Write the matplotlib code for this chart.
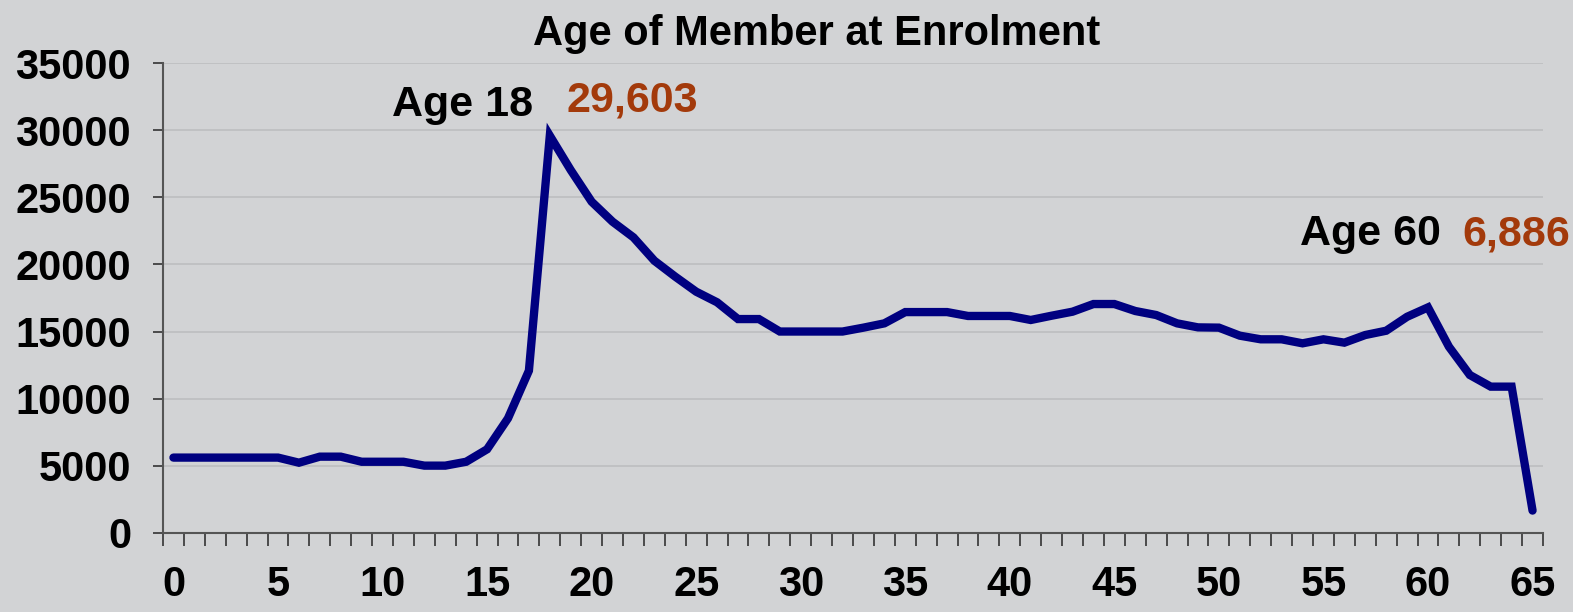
import matplotlib
matplotlib.use("Agg")
import matplotlib.pyplot as plt
from matplotlib.ticker import FixedLocator

plt.rcParams['font.family'] = ['Liberation Sans', 'DejaVu Sans']
plt.rcParams['font.weight'] = 'bold'

ages = list(range(0, 66))
members = [5600, 5600, 5600, 5600, 5600, 5600, 5220, 5670, 5670, 5290,
           5290, 5290, 5000, 5000, 5290, 6220, 8530, 12080, 29603, 27040,
           24680, 23190, 22020, 20280, 19090, 17970, 17180, 15930, 15930, 15000,
           15000, 15000, 15000, 15290, 15610, 16450, 16450, 16450, 16160, 16160,
           16160, 15860, 16180, 16480, 17050, 17050, 16530, 16230, 15610, 15310,
           15290, 14690, 14420, 14420, 14120, 14420, 14170, 14740, 15060, 16100,
           16800, 13870, 11760, 10890, 10890, 1650]
xtick_labels = [0, 5, 10, 15, 20, 25, 30, 35, 40, 45, 50, 55, 60, 65]
yticks = [0, 5000, 10000, 15000, 20000, 25000, 30000, 35000]
title = "Age of Member at Enrolment"

bg = '#D2D3D5'
fig = plt.figure(figsize=(15.73, 6.12), dpi=100, facecolor=bg)
ax = fig.add_axes([163/1573, 1 - 532.7/612, (1543-163)/1573, (532.7-63.3)/612])
ax.set_facecolor(bg)

ax.plot(ages, members, color='#000080', lw=6.0, solid_capstyle='round',
        solid_joinstyle='miter', zorder=3)

ax.set_xlim(-0.5, 65.5)
ax.set_ylim(0, 35000)
ax.set_yticks(yticks)
ax.set_yticklabels([str(v) for v in yticks], fontsize=30, fontweight='bold')
ax.set_xticks(xtick_labels)
ax.set_xticklabels([str(v) for v in xtick_labels], fontsize=30, fontweight='bold')
ax.tick_params(axis='x', which='major', length=0, pad=23)
ax.xaxis.set_minor_locator(FixedLocator([i - 0.5 for i in range(0, 67)]))
ax.tick_params(axis='x', which='minor', length=9, width=1.2, color='#333333', direction='out')
ax.tick_params(axis='y', which='major', length=7, width=1.2, color='#333333', direction='out', pad=16)

ax.grid(axis='y', color='#BDBEC0', lw=1.2, zorder=0)
ax.set_axisbelow(True)
for s in ['top', 'right']:
    ax.spines[s].set_visible(False)
for s in ['left', 'bottom']:
    ax.spines[s].set_color('#555555')
    ax.spines[s].set_linewidth(1.5)

def px(xp, yp):
    return (xp / 1573, 1 - yp / 612)

fig.text(*px(817, 45), title, ha='center', va='baseline', fontsize=30, fontweight='bold', color='black')
fig.text(*px(392, 116), "Age 18", ha='left', va='baseline', fontsize=31, fontweight='bold', color='black')
fig.text(*px(567, 111), "29,603", ha='left', va='baseline', fontsize=31, fontweight='bold', color='#A33A0B')
fig.text(*px(1300, 245), "Age 60", ha='left', va='baseline', fontsize=31, fontweight='bold', color='black')
fig.text(*px(1462, 245), "6,886", ha='left', va='baseline', fontsize=31, fontweight='bold', color='#A33A0B')

fig.savefig('out.png', dpi=100, facecolor=bg)
